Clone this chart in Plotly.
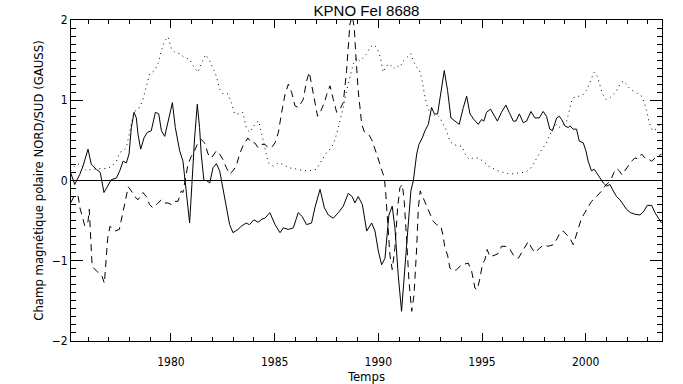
import plotly.graph_objects as go

# ---- data ----
north_years = [1975.16, 1975.36, 1975.60, 1975.76, 1976.00, 1976.16, 1976.40, 1976.59, 1976.77, 1976.96,
               1977.12, 1977.37, 1977.53, 1977.69, 1977.85, 1977.98, 1978.09, 1978.22, 1978.33, 1978.41,
               1978.54, 1978.70, 1978.86, 1979.05, 1979.25, 1979.41, 1979.54, 1979.70, 1979.86, 1980.07,
               1980.21, 1980.42, 1980.58, 1980.69, 1980.82, 1980.90, 1981.01, 1981.14, 1981.27, 1981.38,
               1981.46, 1981.59, 1981.71, 1981.87, 1982.03, 1982.19, 1982.35, 1982.51, 1982.67, 1982.83,
               1982.99, 1983.23, 1983.39, 1983.63, 1983.79, 1984.00, 1984.20, 1984.40, 1984.53, 1984.77,
               1985.02, 1985.26, 1985.42, 1985.66, 1985.90, 1986.14, 1986.33, 1986.54, 1986.78, 1986.94,
               1987.19, 1987.40, 1987.59, 1987.83, 1988.07, 1988.31, 1988.55, 1988.74, 1988.87, 1989.03,
               1989.23, 1989.44, 1989.68, 1989.84, 1990.00, 1990.16, 1990.32, 1990.51, 1990.67, 1990.80,
               1990.96, 1991.12, 1991.28, 1991.44, 1991.57, 1991.69, 1991.85, 1991.96, 1992.12, 1992.25,
               1992.41, 1992.57, 1992.70, 1992.86, 1993.02, 1993.18, 1993.34, 1993.50, 1993.70, 1993.90,
               1994.10, 1994.26, 1994.42, 1994.61, 1994.82, 1994.98, 1995.09, 1995.22, 1995.41, 1995.54,
               1995.74, 1995.94, 1996.15, 1996.31, 1996.51, 1996.64, 1996.80, 1996.99, 1997.15, 1997.36,
               1997.55, 1997.76, 1997.95, 1998.11, 1998.27, 1998.40, 1998.60, 1998.73, 1998.84, 1999.00,
               1999.16, 1999.24, 1999.40, 1999.56, 1999.69, 1999.88, 2000.01, 2000.12, 2000.28, 2000.41,
               2000.56, 2000.69, 2000.85, 2001.01, 2001.17, 2001.33, 2001.49, 2001.65, 2001.81, 2001.97,
               2002.16, 2002.37, 2002.62, 2002.81, 2002.97, 2003.18, 2003.34, 2003.50, 2003.66]
north_field = [0.10, -0.05, 0.075, 0.18, 0.39, 0.20, 0.14, 0.10, -0.15, -0.07,
               0.01, 0.03, 0.12, 0.24, 0.22, 0.33, 0.66, 0.85, 0.78, 0.58,
               0.39, 0.53, 0.60, 0.62, 0.85, 0.83, 0.62, 0.55, 0.74, 0.97,
               0.66, 0.37, 0.24, -0.01, -0.30, -0.53, -0.05, 0.53, 0.95, 0.66,
               0.33, 0.00, 0.00, -0.03, 0.16, 0.21, 0.12, -0.09, -0.34, -0.55,
               -0.65, -0.61, -0.57, -0.53, -0.55, -0.49, -0.52, -0.48, -0.47, -0.40,
               -0.55, -0.65, -0.59, -0.61, -0.59, -0.40, -0.45, -0.55, -0.53, -0.34,
               -0.11, -0.34, -0.43, -0.47, -0.40, -0.32, -0.16, -0.20, -0.28, -0.20,
               -0.30, -0.63, -0.53, -0.63, -0.88, -1.05, -0.97, -0.43, -0.32, -0.59,
               -1.18, -1.63, -1.09, -0.51, -0.13, 0.00, 0.33, 0.45, 0.53, 0.62,
               0.70, 0.91, 0.83, 0.83, 1.12, 1.37, 1.12, 0.78, 0.74, 0.70,
               0.91, 1.05, 0.83, 0.76, 0.70, 0.76, 0.74, 0.85, 0.89, 0.83,
               0.74, 0.85, 0.94, 0.85, 0.74, 0.74, 0.83, 0.72, 0.74, 0.86,
               0.78, 0.78, 0.86, 0.80, 0.64, 0.62, 0.78, 0.80, 0.76, 0.68,
               0.66, 0.68, 0.64, 0.64, 0.49, 0.47, 0.37, 0.24, 0.12, 0.14,
               0.08, 0.03, -0.03, -0.07, -0.05, -0.13, -0.20, -0.24, -0.30, -0.36,
               -0.40, -0.42, -0.43, -0.38, -0.31, -0.31, -0.40, -0.47, -0.53]

south_years = [1975.16, 1975.36, 1975.53, 1975.61, 1975.85, 1976.00, 1976.06, 1976.14, 1976.20, 1976.42,
               1976.66, 1976.79, 1976.87, 1976.95, 1977.06, 1977.30, 1977.51, 1977.62, 1977.78, 1977.94,
               1978.09, 1978.25, 1978.41, 1978.65, 1978.81, 1978.97, 1979.13, 1979.34, 1979.54, 1979.70,
               1979.86, 1980.02, 1980.15, 1980.34, 1980.50, 1980.58, 1980.69, 1980.82, 1980.98, 1981.14,
               1981.30, 1981.46, 1981.62, 1981.79, 1981.95, 1982.19, 1982.35, 1982.51, 1982.67, 1982.83,
               1982.99, 1983.15, 1983.31, 1983.47, 1983.71, 1983.87, 1984.04, 1984.20, 1984.36, 1984.53,
               1984.69, 1984.85, 1985.02, 1985.18, 1985.34, 1985.50, 1985.66, 1985.82, 1985.98, 1986.14,
               1986.38, 1986.54, 1986.67, 1986.78, 1986.91, 1987.07, 1987.23, 1987.40, 1987.51, 1987.67,
               1987.83, 1987.99, 1988.15, 1988.31, 1988.47, 1988.55, 1988.63, 1988.74, 1988.84, 1988.91,
               1989.03, 1989.20, 1989.32, 1989.52, 1989.68, 1989.92, 1990.08, 1990.29, 1990.35, 1990.45,
               1990.56, 1990.67, 1990.80, 1990.93, 1991.04, 1991.16, 1991.25, 1991.37, 1991.48, 1991.61,
               1991.72, 1991.85, 1991.93, 1992.02, 1992.17, 1992.33, 1992.49, 1992.65, 1992.81, 1993.02,
               1993.13, 1993.21, 1993.34, 1993.45, 1993.61, 1993.78, 1994.02, 1994.34, 1994.50, 1994.66,
               1994.77, 1994.90, 1995.03, 1995.14, 1995.25, 1995.38, 1995.62, 1995.78, 1995.94, 1996.11,
               1996.31, 1996.51, 1996.75, 1996.91, 1997.07, 1997.23, 1997.39, 1997.55, 1997.79, 1997.99,
               1998.19, 1998.44, 1998.63, 1998.76, 1998.92, 1999.08, 1999.24, 1999.40, 1999.53, 1999.69,
               1999.80, 1999.96, 2000.12, 2000.28, 2000.45, 2000.61, 2000.77, 2000.93, 2001.09, 2001.25,
               2001.36, 2001.49, 2001.62, 2001.75, 2001.89, 2002.05, 2002.21, 2002.37, 2002.53, 2002.70,
               2002.86, 2003.02, 2003.18, 2003.34, 2003.50, 2003.66]
south_field = [-0.28, -0.18, -0.20, -0.34, -0.57, -0.51, -0.36, -0.70, -1.07, -1.13,
               -1.18, -1.28, -1.03, -0.72, -0.57, -0.63, -0.61, -0.49, -0.28, -0.08,
               -0.13, -0.20, -0.24, -0.15, -0.20, -0.30, -0.34, -0.29, -0.24, -0.28,
               -0.28, -0.30, -0.26, -0.26, -0.13, -0.15, 0.00, 0.20, 0.30, 0.37,
               0.47, 0.51, 0.47, 0.33, 0.28, 0.37, 0.33, 0.26, 0.16, 0.08,
               0.12, 0.18, 0.33, 0.43, 0.53, 0.47, 0.47, 0.41, 0.45, 0.45,
               0.41, 0.41, 0.47, 0.60, 0.85, 1.07, 1.20, 1.10, 0.93, 0.91,
               1.01, 1.24, 1.35, 1.20, 0.99, 0.80, 0.87, 0.97, 1.07, 1.18,
               1.01, 0.85, 0.89, 0.97, 1.37, 1.70, 1.95, 2.05, 1.91, 1.58,
               1.12, 0.70, 0.61, 0.58, 0.51, 0.33, 0.20, 0.03, -0.13, -0.59,
               -0.93, -1.11, -0.84, -0.34, -0.09, -0.05, -0.26, -0.76, -1.26, -1.63,
               -1.43, -0.84, -0.34, -0.13, -0.22, -0.32, -0.43, -0.51, -0.55, -0.57,
               -0.70, -0.84, -0.93, -1.09, -1.13, -1.11, -1.05, -1.03, -1.13, -1.34,
               -1.36, -1.22, -1.03, -0.99, -0.86, -0.95, -0.93, -0.91, -0.82, -0.82,
               -0.84, -0.93, -0.97, -0.90, -0.84, -0.76, -0.84, -0.90, -0.84, -0.80,
               -0.82, -0.80, -0.72, -0.65, -0.63, -0.68, -0.72, -0.80, -0.70, -0.55,
               -0.47, -0.40, -0.32, -0.26, -0.22, -0.18, -0.13, -0.07, -0.03, 0.03,
               0.10, 0.15, 0.12, 0.07, 0.12, 0.18, 0.24, 0.28, 0.27, 0.33,
               0.28, 0.27, 0.24, 0.28, 0.30, 0.33]

diff_years = [1975.16, 1975.36, 1975.60, 1975.76, 1975.92, 1976.16, 1976.40, 1976.64, 1976.88, 1977.12,
              1977.37, 1977.53, 1977.69, 1977.85, 1978.01, 1978.17, 1978.33, 1978.49, 1978.65, 1978.81,
              1978.97, 1979.21, 1979.37, 1979.54, 1979.70, 1979.86, 1980.02, 1980.18, 1980.42, 1980.66,
              1980.90, 1981.06, 1981.30, 1981.46, 1981.67, 1981.87, 1982.03, 1982.19, 1982.35, 1982.51,
              1982.75, 1982.91, 1983.07, 1983.31, 1983.47, 1983.63, 1983.79, 1983.96, 1984.08, 1984.23,
              1984.36, 1984.52, 1984.69, 1984.94, 1985.18, 1985.42, 1985.66, 1985.90, 1986.14, 1986.46,
              1986.78, 1987.02, 1987.19, 1987.35, 1987.51, 1987.67, 1987.83, 1987.99, 1988.15, 1988.31,
              1988.47, 1988.63, 1988.79, 1988.95, 1989.11, 1989.27, 1989.44, 1989.60, 1989.76, 1989.92,
              1990.08, 1990.24, 1990.40, 1990.56, 1990.72, 1990.88, 1991.04, 1991.20, 1991.37, 1991.57,
              1991.69, 1991.85, 1991.96, 1992.09, 1992.22, 1992.33, 1992.49, 1992.65, 1992.81, 1992.97,
              1993.13, 1993.29, 1993.45, 1993.61, 1993.86, 1994.02, 1994.18, 1994.39, 1994.58, 1994.82,
              1995.06, 1995.30, 1995.54, 1995.78, 1996.03, 1996.35, 1996.59, 1996.83, 1997.07, 1997.31,
              1997.47, 1997.63, 1997.79, 1997.95, 1998.11, 1998.24, 1998.40, 1998.60, 1998.76, 1998.92,
              1999.08, 1999.21, 1999.32, 1999.48, 1999.69, 1999.88, 2000.04, 2000.20, 2000.40, 2000.56,
              2000.69, 2000.81, 2000.98, 2001.17, 2001.33, 2001.49, 2001.65, 2001.81, 2001.97, 2002.13,
              2002.33, 2002.54, 2002.70, 2002.82, 2002.94, 2003.06, 2003.23, 2003.39, 2003.58]
diff_field = [0.12, 0.18, 0.21, 0.16, 0.12, 0.14, 0.14, 0.15, 0.15, 0.17,
              0.24, 0.35, 0.37, 0.41, 0.62, 0.80, 0.89, 0.91, 1.01, 1.18,
              1.33, 1.37, 1.45, 1.62, 1.74, 1.79, 1.64, 1.60, 1.58, 1.53,
              1.51, 1.43, 1.35, 1.45, 1.57, 1.49, 1.39, 1.30, 1.14, 1.08,
              1.08, 0.97, 0.83, 0.83, 0.85, 0.66, 0.60, 0.66, 0.72, 0.74,
              0.60, 0.43, 0.22, 0.18, 0.22, 0.20, 0.16, 0.15, 0.14, 0.12,
              0.125, 0.14, 0.22, 0.28, 0.35, 0.39, 0.45, 0.58, 0.74, 0.91,
              1.12, 1.30, 1.45, 1.53, 1.49, 1.53, 1.58, 1.66, 1.69, 1.66,
              1.55, 1.35, 1.43, 1.45, 1.39, 1.43, 1.41, 1.49, 1.53, 1.58,
              1.49, 1.41, 1.39, 1.28, 1.08, 0.95, 0.83, 0.80, 0.83, 0.78,
              0.70, 0.62, 0.49, 0.45, 0.43, 0.43, 0.33, 0.26, 0.28, 0.28,
              0.24, 0.18, 0.15, 0.12, 0.10, 0.08, 0.085, 0.10, 0.10, 0.14,
              0.20, 0.28, 0.35, 0.41, 0.47, 0.55, 0.64, 0.70, 0.66, 0.70,
              0.74, 0.87, 0.99, 1.05, 1.05, 1.07, 1.12, 1.22, 1.35, 1.30,
              1.20, 1.08, 1.01, 1.03, 1.07, 1.12, 1.20, 1.24, 1.20, 1.14,
              1.11, 1.08, 1.05, 0.97, 0.87, 0.72, 0.62, 0.64, 0.70]

x_range = [1975.18, 2003.68]
y_range = [-2, 2]

FONT = "DejaVu Sans Condensed, Liberation Sans Narrow, Liberation Sans, Arial, sans-serif"
TITLE_FONT = "Liberation Sans, Arial, sans-serif"

fig = go.Figure()
fig.add_trace(go.Scatter(x=diff_years, y=diff_field, mode="lines",
                         line=dict(color="black", width=1, dash="1px,4px"), showlegend=False))
fig.add_trace(go.Scatter(x=south_years, y=south_field, mode="lines",
                         line=dict(color="black", width=1, dash="7px,5px"), showlegend=False))
fig.add_trace(go.Scatter(x=north_years, y=north_field, mode="lines",
                         line=dict(color="black", width=1), showlegend=False))

fig.add_shape(type="line", xref="paper", yref="y", x0=0, x1=1, y0=0, y1=0,
              line=dict(color="black", width=1))

axis_common = dict(showline=True, linecolor="black", linewidth=1, mirror="allticks",
                   ticks="inside", tickcolor="black", tickwidth=1, showgrid=False,
                   zeroline=False, automargin=False,
                   tickfont=dict(family=FONT, size=12, color="black"))

fig.update_layout(
    width=683, height=384,
    margin=dict(l=71, r=21, t=20, b=43, pad=0, autoexpand=False),
    paper_bgcolor="white", plot_bgcolor="white",
    font=dict(family=FONT, size=12, color="black"),
    title=dict(text="KPNO FeI 8688", x=0.5, xref="paper", xanchor="center",
               y=1 - 10.5 / 384, yref="container", yanchor="middle",
               font=dict(family=TITLE_FONT, size=15, color="black")),
    xaxis=dict(range=x_range, tick0=1980, dtick=5, ticklen=8, ticklabelstandoff=10,
               minor=dict(dtick=1, ticklen=4, ticks="inside", tickcolor="black", showgrid=False),
               title=dict(text="Temps", standoff=3, font=dict(family=FONT, size=13)),
               **axis_common),
    yaxis=dict(range=y_range, tick0=0, dtick=1, ticklen=12,
               minor=dict(dtick=0.1, ticklen=5, ticks="inside", tickcolor="black", showgrid=False),
               title=dict(text="Champ magnétique polaire NORD/SUD (GAUSS)", standoff=5,
                          font=dict(family=FONT, size=13)),
               **axis_common),
)

fig.write_html("out.html", config={"displayModeBar": False},
               post_script="document.body.style.margin='0px';")
